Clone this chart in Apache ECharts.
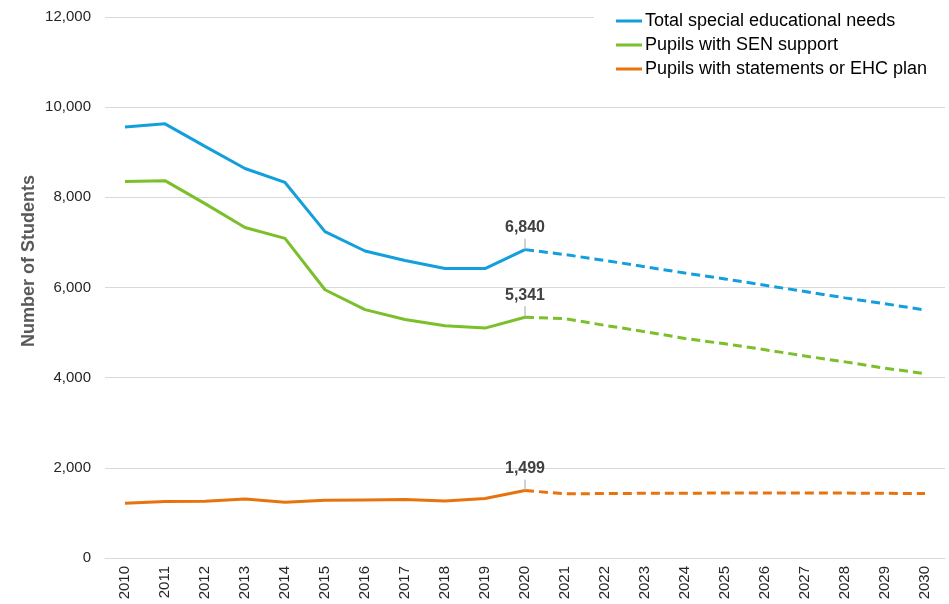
<!DOCTYPE html>
<html>
<head>
<meta charset="utf-8">
<script src="https://cdn.jsdelivr.net/npm/echarts@6/dist/echarts.min.js"></script>
<style>
  html, body { margin: 0; padding: 0; background: #fff; }
  #chart { width: 949px; height: 604px; }
</style>
</head>
<body>
<div id="chart"></div>
<script>
// School years, actual data up to 2020 and projections after it
const years = ['2010','2011','2012','2013','2014','2015','2016','2017','2018','2019','2020',
               '2021','2022','2023','2024','2025','2026','2027','2028','2029','2030'];
const lastActualIndex = 10;

const totalSEN   = [9560, 9630, 9130, 8640, 8330, 7240, 6810, 6600, 6420, 6420, 6840,
                    6730, 6600, 6460, 6320, 6190, 6050, 5910, 5770, 5640, 5500];
const senSupport = [8350, 8370, 7860, 7330, 7090, 5950, 5510, 5290, 5150, 5100, 5341,
                    5310, 5160, 5020, 4870, 4750, 4620, 4480, 4350, 4210, 4090];
const ehcPlan    = [1215, 1252, 1259, 1311, 1237, 1281, 1289, 1296, 1267, 1319, 1499,
                    1422, 1430, 1435, 1438, 1440, 1442, 1442, 1440, 1435, 1430];

const seriesNames = ['Total special educational needs', 'Pupils with SEN support', 'Pupils with statements or EHC plan'];
const seriesColors = ['#129fdb', '#7bbf2a', '#e8730c'];
const yTicks = { min: 0, max: 12000, interval: 2000 };

const chart = echarts.init(document.getElementById('chart'), null, { renderer: 'canvas' });

function actualPart(values) {
  return values.map((v, i) => (i <= lastActualIndex ? v : null));
}
function projectedPart(values) {
  return values.map((v, i) => (i >= lastActualIndex ? v : null));
}

const allValues = [totalSEN, senSupport, ehcPlan];
const series = [];
allValues.forEach((values, k) => {
  series.push({
    name: seriesNames[k],
    type: 'line',
    data: actualPart(values),
    showSymbol: false,
    symbol: 'none',
    lineStyle: { color: seriesColors[k], width: 3 },
    itemStyle: { color: seriesColors[k] },
    z: 3
  });
  series.push({
    name: seriesNames[k] + ' (projected)',
    type: 'line',
    data: projectedPart(values),
    showSymbol: false,
    symbol: 'none',
    lineStyle: { color: seriesColors[k], width: 3, type: [9, 5] },
    itemStyle: { color: seriesColors[k] },
    z: 2
  });
  // Value call-out for the last actual year: the number above a short grey stem
  series.push({
    name: seriesNames[k] + ' (label)',
    type: 'line',
    data: values.map((v, i) => (i === lastActualIndex ? v : null)),
    symbol: 'circle',
    symbolSize: 0,
    showSymbol: true,
    lineStyle: { opacity: 0 },
    itemStyle: { color: seriesColors[k] },
    label: {
      show: true,
      position: 'top',
      distance: 0,
      formatter: (p) => '{v|' + p.value.toLocaleString('en-US') + '}\n{s|}',
      rich: {
        v: {
          color: '#404040',
          fontSize: 16,
          fontWeight: 'bold',
          lineHeight: 22,
          fontFamily: 'Liberation Sans, Arial, sans-serif'
        },
        s: { width: 1, height: 11, backgroundColor: '#a6a6a6' }
      }
    },
    z: 4
  });
});

chart.setOption({
  animation: false,
  backgroundColor: '#ffffff',
  textStyle: { fontFamily: 'Liberation Sans, Arial, sans-serif' },
  grid: { left: 105, right: 4, top: 17, bottom: 46, containLabel: false },
  legend: {
    data: seriesNames,
    orient: 'vertical',
    left: 594,
    top: 9,
    padding: [3, 30, 3, 22],
    backgroundColor: '#ffffff',
    icon: 'rect',
    itemWidth: 26,
    itemHeight: 3,
    itemGap: 6,
    textStyle: { color: '#000000', fontSize: 18, padding: [0, 0, 0, -2] }
  },
  xAxis: {
    type: 'category',
    data: years,
    boundaryGap: true,
    axisLine: { lineStyle: { color: '#d9d9d9', width: 1 } },
    axisTick: { show: false },
    axisLabel: { rotate: 90, color: '#262626', fontSize: 15, margin: 8, interval: 0 }
  },
  yAxis: {
    type: 'value',
    min: yTicks.min,
    max: yTicks.max,
    interval: yTicks.interval,
    axisLine: { show: false },
    axisTick: { show: false },
    splitLine: { lineStyle: { color: '#d9d9d9', width: 1 } },
    axisLabel: {
      color: '#262626',
      fontSize: 15,
      margin: 14,
      formatter: (v) => v.toLocaleString('en-US')
    }
  },
  graphic: [{
    type: 'text',
    left: 20,
    top: 175,
    rotation: Math.PI / 2,
    style: {
      text: 'Number of Students',
      fill: '#595959',
      font: 'bold 18px "Liberation Sans", Arial, sans-serif'
    }
  }],
  series: series
});
</script>
</body>
</html>
